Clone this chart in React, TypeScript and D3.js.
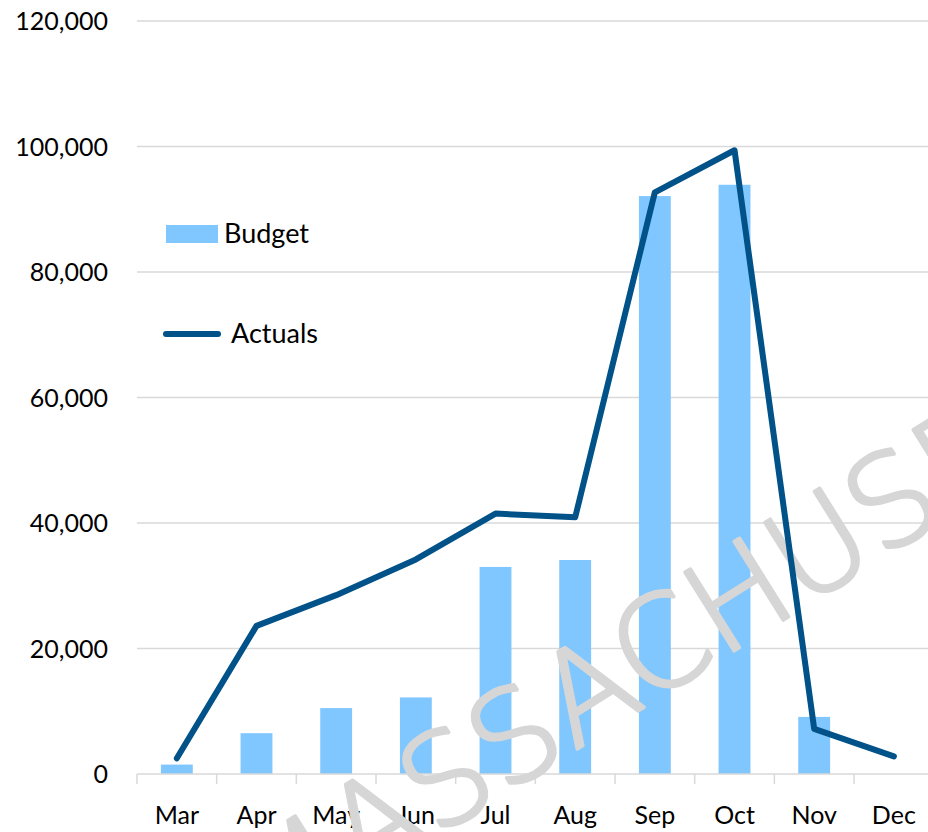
import * as d3 from 'd3';
import { useEffect, useRef } from 'react';

const months = ['Mar', 'Apr', 'May', 'Jun', 'Jul', 'Aug', 'Sep', 'Oct', 'Nov', 'Dec'];
const budget = [1500, 6500, 10500, 12200, 33000, 34100, 92100, 93900, 9100, 0];
const actuals = [2500, 23600, 28500, 34200, 41500, 40900, 92700, 99400, 7200, 2800];
const yTicks = [0, 20000, 40000, 60000, 80000, 100000, 120000];
const seriesNames = ['Budget', 'Actuals'];
const watermark = 'MASSACHUSETTS';

const App = () => {
    const ref = useRef<SVGSVGElement>(null);

    useEffect(() => {
        const width = 928;
        const height = 832;
        const font = 'Lato, Carlito, Calibri, sans-serif';
        const barColor = '#80c6ff';
        const lineColor = '#005288';
        const gridColor = '#d9d9d9';

        const svg = d3.select(ref.current);
        svg.selectAll('*').remove();
        svg.attr('width', width).attr('height', height);

        const x = d3.scaleBand()
            .domain(months)
            .range([137, 933.7])
            .padding(0);
        const bw = x.bandwidth();

        const y = d3.scaleLinear()
            .domain([0, 120000])
            .range([774, 21]);

        // gridlines + y labels
        const grid = svg.append('g');
        grid.selectAll('line')
            .data(yTicks.filter(t => t > 0))
            .enter().append('line')
            .attr('x1', 137).attr('x2', width)
            .attr('y1', d => y(d)).attr('y2', d => y(d))
            .attr('stroke', gridColor).attr('stroke-width', 1.5);

        grid.selectAll('text')
            .data(yTicks)
            .enter().append('text')
            .attr('x', 108)
            .attr('y', d => y(d) + 9)
            .attr('text-anchor', 'end')
            .attr('font-family', font)
            .attr('font-size', 25)
            .attr('fill', '#000')
            .text(d => d3.format(',')(d));

        // bars
        svg.append('g')
            .selectAll('rect')
            .data(months)
            .enter().append('rect')
            .attr('x', d => x(d)! + bw * 0.3)
            .attr('y', (d, i) => y(budget[i]))
            .attr('width', bw * 0.4)
            .attr('height', (d, i) => y(0) - y(budget[i]))
            .attr('fill', barColor);

        // x axis
        const axis = svg.append('g');
        axis.append('line')
            .attr('x1', 137).attr('x2', width)
            .attr('y1', y(0)).attr('y2', y(0))
            .attr('stroke', gridColor).attr('stroke-width', 1.5);
        axis.selectAll('line.tick')
            .data(months)
            .enter().append('line')
            .attr('class', 'tick')
            .attr('x1', d => x(d)!).attr('x2', d => x(d)!)
            .attr('y1', y(0)).attr('y2', y(0) + 10)
            .attr('stroke', gridColor).attr('stroke-width', 1.5);
        axis.selectAll('text')
            .data(months)
            .enter().append('text')
            .attr('x', d => x(d)! + bw / 2)
            .attr('y', 824)
            .attr('text-anchor', 'middle')
            .attr('font-family', font)
            .attr('font-size', 25)
            .attr('fill', '#000')
            .text(d => d);

        // legend
        const legend = svg.append('g').attr('font-family', font).attr('font-size', 27);
        legend.append('rect')
            .attr('x', 166).attr('y', 225).attr('width', 52).attr('height', 18)
            .attr('fill', barColor);
        legend.append('text').attr('x', 224).attr('y', 243).text(seriesNames[0]);
        legend.append('line')
            .attr('x1', 166).attr('x2', 218).attr('y1', 334).attr('y2', 334)
            .attr('stroke', lineColor).attr('stroke-width', 6)
            .attr('stroke-linecap', 'round');
        legend.append('text').attr('x', 231).attr('y', 343).text(seriesNames[1]);

        // watermark
        svg.append('text')
            .attr('transform', 'translate(742,646) rotate(-32)')
            .attr('text-anchor', 'middle')
            .attr('font-family', 'DejaVu Sans, sans-serif')
            .attr('font-weight', 200)
            .attr('font-size', 127)
            .attr('fill', '#d6d6d6')
            .attr('stroke', '#d6d6d6')
            .attr('stroke-width', 3.5)
            .attr('stroke-linejoin', 'round')
            .text(watermark);

        // actuals line
        const line = d3.line<number>()
            .x((d, i) => x(months[i])! + bw / 2)
            .y(d => y(d));

        svg.append('path')
            .datum(actuals)
            .attr('d', line)
            .attr('fill', 'none')
            .attr('stroke', lineColor)
            .attr('stroke-width', 6)
            .attr('stroke-linecap', 'round')
            .attr('stroke-linejoin', 'round');
    }, []);

    return (
        <div style={{ position: 'absolute', left: 0, top: 0 }}>
            <svg ref={ref} style={{ display: 'block' }} />
        </div>
    );
};

export default App;
